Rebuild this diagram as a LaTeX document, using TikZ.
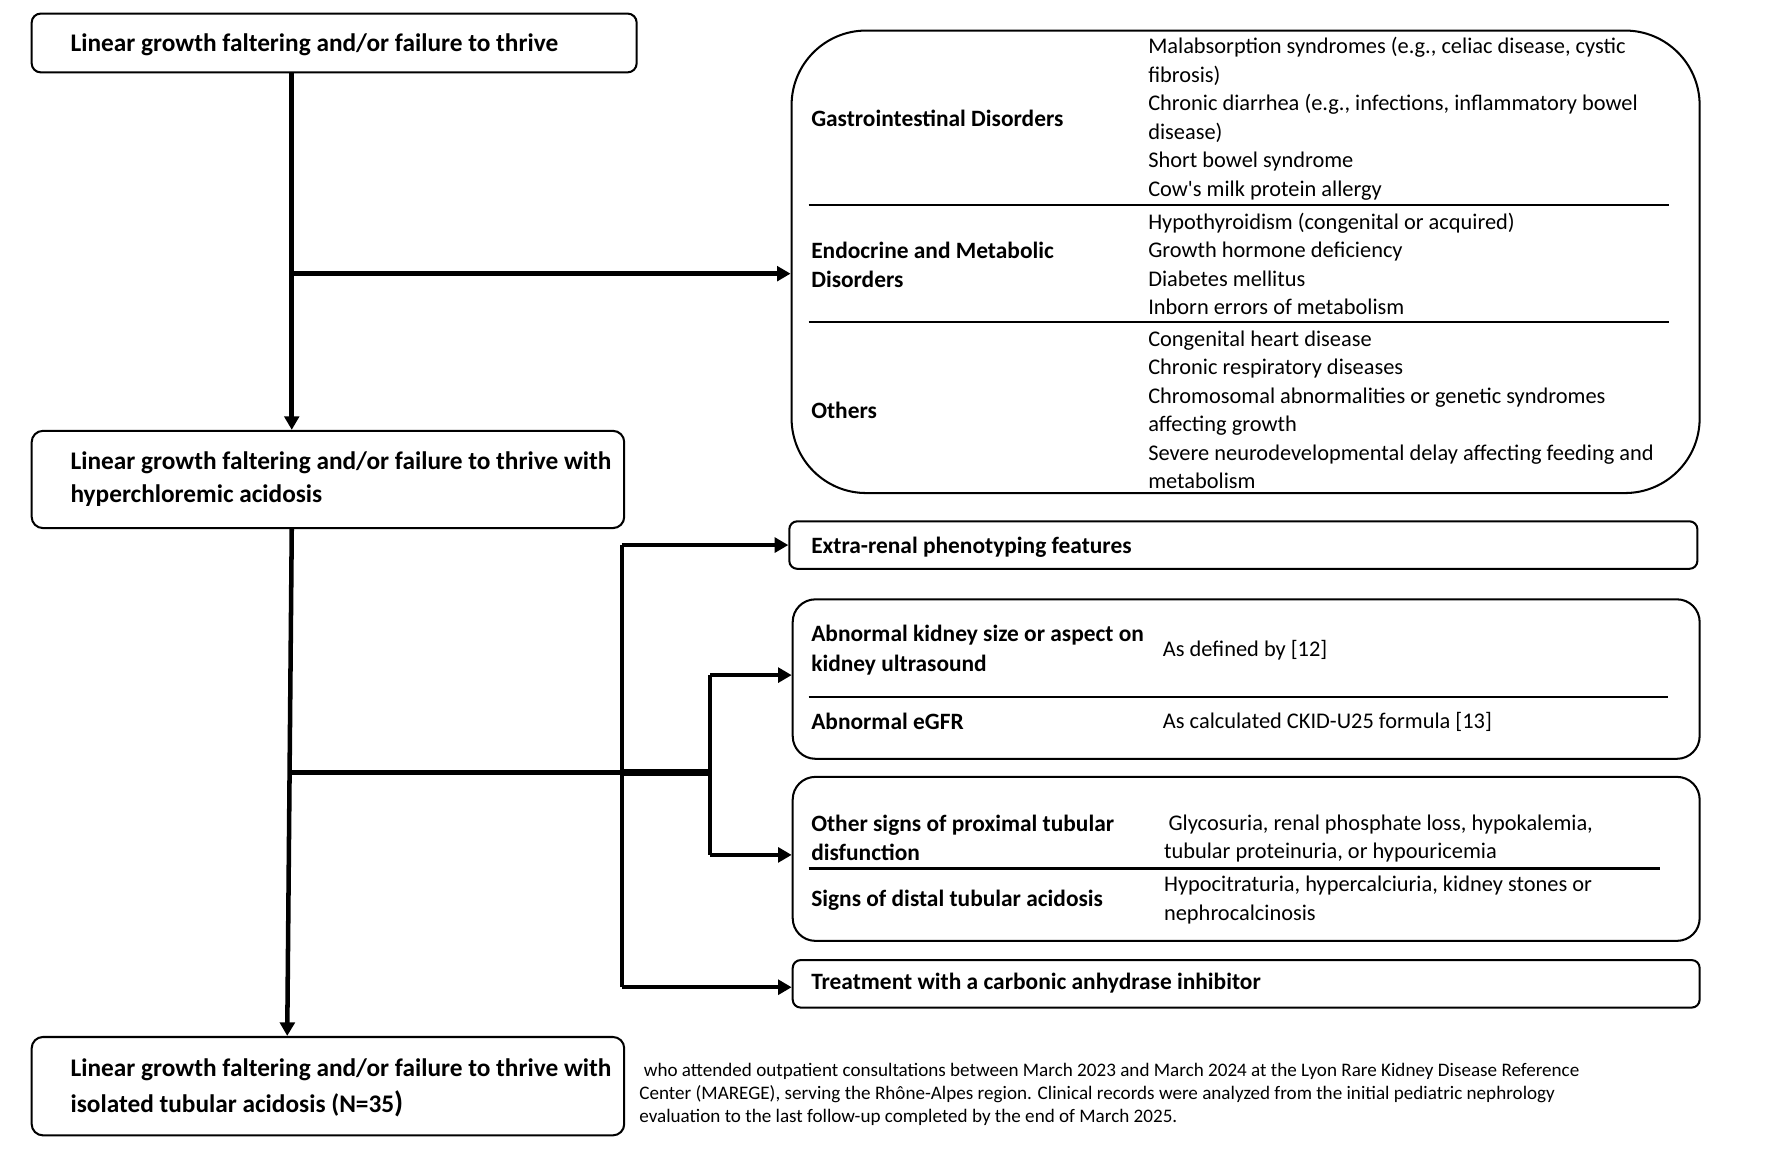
\documentclass[tikz,border=0pt]{standalone}
\usepackage{fontspec}
\setmainfont{Carlito}
\usetikzlibrary{arrows.meta,fit}
\tikzset{
  box/.style={draw, line width=0.9pt, inner sep=0pt},
  sepline/.style={line width=0.9pt},
  conn/.style={line width=2pt},
  arr/.style={conn, -{Triangle[length=6pt,width=6.5pt]}},
  lbl/.style={anchor=west, inner sep=0pt, align=left, font=\bfseries\fontsize{10.35}{13}\selectfont},
  mainlbl/.style={anchor=west, inner sep=0pt, align=left},
  body/.style={anchor=west, inner sep=0pt, align=left, font=\fontsize{9.9}{12.6}\selectfont},
  foot/.style={anchor=west, inner sep=0pt, align=left, font=\fontsize{8.45}{10.25}\selectfont},
}
\begin{document}
\begin{tikzpicture}[x=0.5pt,y=-0.5pt]
\useasboundingbox (0,0) rectangle (1567,1028.5);
% boxes
\node[box, rounded corners=4pt, fit={(28,12)(563,64)}] (b1) {};
\node[box, rounded corners=5pt, fit={(28,381)(552,467)}] (b2) {};
\node[box, rounded corners=5pt, fit={(28,917)(552,1004)}] (b3) {};
\node[box, rounded corners=33pt, fit={(700,27)(1503,436)}] (big) {};
\node[box, rounded corners=3.5pt, fit={(698,461)(1501,503)}] (er) {};
\node[box, rounded corners=10pt, fit={(701,530)(1503,671)}] (kid) {};
\node[box, rounded corners=10pt, fit={(701,687)(1503,832)}] (tub) {};
\node[box, rounded corners=3.5pt, fit={(701,849)(1503,891)}] (tr) {};
% separators
\draw[sepline] (715,181) -- (1476,181);
\draw[sepline] (715,285) -- (1476,285);
\draw[sepline] (715,616) -- (1475,616);
\draw[sepline] (715,768) -- (1468,768);
% main texts
\node[mainlbl, font=\bfseries\fontsize{11.2}{14}\selectfont] (t1) at (62,40) {Linear growth faltering and/or failure to thrive};
\node[mainlbl, font=\bfseries\fontsize{11.2}{14.5}\selectfont] (t2) at (62,423.5) {Linear growth faltering and/or failure to thrive with\\hyperchloremic acidosis};
\node[mainlbl, font=\bfseries\fontsize{11.2}{16}\selectfont] (t3) at (62,962) {Linear growth faltering and/or failure to thrive with\\isolated tubular acidosis (N=35{\fontsize{13}{13}\selectfont)}};
% big box
\node[lbl] (gi) at (717,105) {Gastrointestinal Disorders};
\node[lbl] (en) at (717,234) {Endocrine and Metabolic\\Disorders};
\node[lbl] (ot) at (717,363) {Others};
\node[body] (gil) at (1015,105) {Malabsorption syndromes (e.g., celiac disease, cystic\\fibrosis)\\Chronic diarrhea (e.g., infections, inflammatory bowel\\disease)\\Short bowel syndrome\\Cow\textquotesingle s milk protein allergy};
\node[body] (enl) at (1015,233.5) {Hypothyroidism (congenital or acquired)\\Growth hormone deficiency\\Diabetes mellitus\\Inborn errors of metabolism};
\node[body] (otl) at (1015,362.5) {Congenital heart disease\\Chronic respiratory diseases\\Chromosomal abnormalities or genetic syndromes\\affecting growth\\Severe neurodevelopmental delay affecting feeding and\\metabolism};
% other boxes
\node[lbl] (ert) at (717,484) {Extra-renal phenotyping features};
\node[lbl] (k1) at (717,575) {Abnormal kidney size or aspect on\\kidney ultrasound};
\node[body] (k1r) at (1028,575) {As defined by [12]};
\node[lbl] (k2) at (717,638) {Abnormal eGFR};
\node[body] (k2r) at (1028,638) {As calculated CKID-U25 formula [13]};
\node[lbl] (p1) at (717,741) {Other signs of proximal tubular\\disfunction};
\node[body] (p1r) at (1029,741.5) {\hspace{2pt}Glycosuria, renal phosphate loss, hypokalemia,\\tubular proteinuria, or hypouricemia};
\node[lbl] (p2) at (717,796) {Signs of distal tubular acidosis};
\node[body] (p2r) at (1029,796) {Hypocitraturia, hypercalciuria, kidney stones or\\nephrocalcinosis};
\node[lbl] (trt) at (717,869) {Treatment with a carbonic anhydrase inhibitor};
\node[foot] (fn) at (565,967.5) {\hspace{2pt}who attended outpatient consultations between March 2023 and March 2024 at the Lyon Rare Kidney Disease Reference\\Center (MAREGE), serving the Rhône-Alpes region. Clinical records were analyzed from the initial pediatric nephrology\\evaluation to the last follow-up completed by the end of March 2025.};
% connectors
\coordinate (x1) at (258,0);
\coordinate (x3) at (254,0);
\coordinate (j1) at (258,242);
\coordinate (j2) at (256,683);
\coordinate (j3) at (550,683);
\coordinate (j4) at (628,683);
\coordinate (ka) at (628,597);
\coordinate (ta) at (628,756);
\coordinate (tra) at (550,873);
\draw[arr] (b1.south -| x1) -- (b2.north -| x1);
\draw[arr] (j1) -- (j1 -| big.west);
\draw[arr] (b2.south -| x1) -- (b3.north -| x3);
\draw[conn] (j2) -- (j3);
\draw[line width=3.2pt] (j3) -- (j4);
\draw[conn] (er.west -| j3) -- (tra);
\draw[arr] (er.west -| j3) -- (er.west);
\draw[arr] (tra) -- (tra -| tr.west);
\draw[conn] (ka) -- (ta);
\draw[arr] (ka) -- (ka -| kid.west);
\draw[arr] (ta) -- (ta -| tub.west);
\end{tikzpicture}
\end{document}
